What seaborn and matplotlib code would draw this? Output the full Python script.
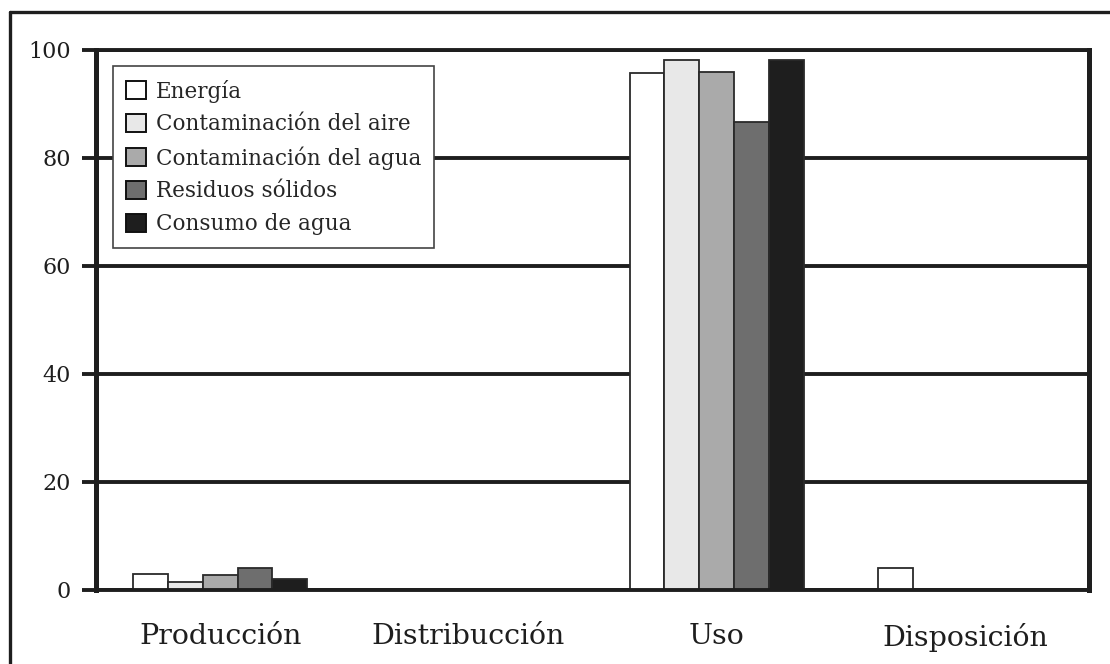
import numpy as np
import pandas as pd
import seaborn as sns
import matplotlib
matplotlib.use("Agg")
import matplotlib.pyplot as plt
from matplotlib.lines import Line2D

# ---- data ----
stages = ["Producción", "Distribucción", "Uso", "Disposición"]
series = ["Energía", "Contaminación del aire", "Contaminación del agua",
          "Residuos sólidos", "Consumo de agua"]
energia = [3.0, 0.0, 95.7, 4.0]
aire = [1.4, 0.0, 98.1, 0.0]
agua = [2.7, 0.0, 96.0, 0.0]
residuos = [4.1, 0.0, 86.7, 0.0]
consumo = [2.0, 0.0, 98.2, 0.0]
yticks = [0, 20, 40, 60, 80, 100]
colors = ["#ffffff", "#e8e8e8", "#aaaaaa", "#6e6e6e", "#1e1e1e"]

values = [energia, aire, agua, residuos, consumo]
rows = []
for s, vals in zip(series, values):
    for st, v in zip(stages, vals):
        rows.append({"stage": st, "series": s, "value": v})
df = pd.DataFrame(rows)

sns.set_theme(style="white")
plt.rcParams["font.family"] = ["DejaVu Serif"]
ink = "#1e1e1e"

fig = plt.figure(figsize=(11.10, 6.64), dpi=100)
ax = fig.add_axes([96 / 1110, 1 - 590 / 664, (1089 - 96) / 1110, (590 - 50) / 664])

sns.barplot(data=df, x="stage", y="value", hue="series", order=stages,
            hue_order=series, palette=colors, width=0.7, edgecolor="#2a2a2a",
            linewidth=1.3, ax=ax, errorbar=None, saturation=1)

ax.set_axisbelow(True)
ax.set_ylim(0, 100)
ax.set_xlim(-0.5, 3.5)
ax.set_yticks(yticks)
ax.set_yticklabels([str(t) for t in yticks], fontsize=16, color=ink)
ax.yaxis.grid(True, color=ink, linewidth=2.8)
ax.xaxis.grid(False)
ax.set_xlabel("")
ax.set_ylabel("")

# category labels at centres (no tick mark), boundary ticks as minor ticks
ax.set_xticks(range(len(stages)))
ax.set_xticklabels(stages, fontsize=20.5, color=ink)
ax.set_xticks([-0.5, 0.5, 1.5, 2.5, 3.5], minor=True)
ax.tick_params(axis="x", which="major", length=0, pad=24)
ax.tick_params(axis="x", which="minor", length=10, width=3.5, color=ink, direction="out")
ax.tick_params(axis="y", which="major", length=10, width=2.8, color=ink, pad=8,
               direction="out", left=True)

for side in ["left", "right", "bottom", "top"]:
    ax.spines[side].set_visible(True)
    ax.spines[side].set_color(ink)
ax.spines["left"].set_linewidth(3.6)
ax.spines["right"].set_linewidth(3.6)
ax.spines["bottom"].set_linewidth(2.8)
ax.spines["top"].set_linewidth(2.8)

leg = ax.legend(loc="upper left", bbox_to_anchor=(0.017, 0.97), borderaxespad=0,
                fontsize=15.5, frameon=True, fancybox=False, edgecolor="#444444",
                framealpha=1, handlelength=0.92, handleheight=0.92,
                handletextpad=0.45, labelspacing=0.5, borderpad=0.62)
leg.get_frame().set_linewidth(1.2)
for h in leg.legend_handles:
    h.set_edgecolor("#111111")
    h.set_linewidth(1.4)

# outer frame lines (scanned page border)
fig.add_artist(Line2D([10 / 1110, 10 / 1110], [0, 1 - 12 / 664], color=ink, linewidth=2.4))
fig.add_artist(Line2D([10 / 1110, 1], [1 - 12 / 664, 1 - 12 / 664], color=ink, linewidth=2.4))

fig.savefig("out.png", dpi=100, facecolor="white")
